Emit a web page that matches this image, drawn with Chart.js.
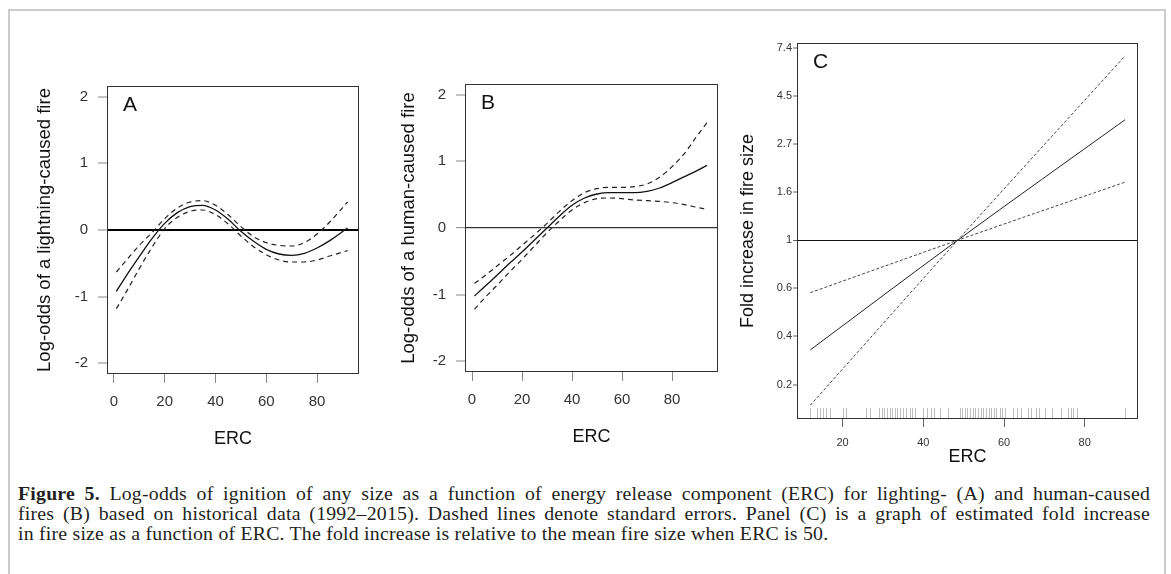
<!DOCTYPE html>
<html>
<head>
<meta charset="utf-8">
<script src="https://cdn.jsdelivr.net/npm/chart.js@4.4.0/dist/chart.umd.min.js"></script>
<style>
  html, body { margin: 0; padding: 0; background: #fff; }
  body { width: 1171px; height: 574px; position: relative; overflow: hidden; }
  .frame { position: absolute; left: 8px; top: 9px; width: 1158px; height: 620px; border: 2px solid #cbcbcb; box-sizing: border-box; }
  .panel { position: absolute; }
  .panel canvas { display: block; }
  #wrapA { left: 20px; top: 78px; width: 345px; height: 385px; }
  #wrapB { left: 380px; top: 76px; width: 345px; height: 385px; }
  #wrapC { left: 720px; top: 35px; width: 425px; height: 440px; }
  .caption { position: absolute; left: 18px; top: 483px; width: 1132px; font-family: 'Liberation Serif', 'Times New Roman', serif; font-size: 19.8px; letter-spacing: 0.22px; line-height: 20px; color: #231f20; }
  .caption .j { text-align: justify; text-align-last: justify; white-space: nowrap; }
  .caption .l { white-space: nowrap; }
</style>
</head>
<body>
<div class="frame"></div>
<div class="panel" id="wrapA"><canvas id="chartA"></canvas></div>
<div class="panel" id="wrapB"><canvas id="chartB"></canvas></div>
<div class="panel" id="wrapC"><canvas id="chartC"></canvas></div>
<div class="caption">
  <div class="j"><b>Figure 5.</b> Log-odds of ignition of any size as a function of energy release component (ERC) for lighting- (A) and human-caused</div>
  <div class="j">fires (B) based on historical data (1992–2015). Dashed lines denote standard errors. Panel (C) is a graph of estimated fold increase</div>
  <div class="l">in fire size as a function of ERC. The fold increase is relative to the mean fire size when ERC is 50.</div>
</div>
<script>
// Panel A — lightning-caused fires (log-odds, fit and standard errors)
const ercA   = [1, 5, 10, 15, 20, 25, 30, 35, 40, 45, 50, 55, 60, 65, 70, 75, 80, 85, 92];
const fitA   = [-0.92, -0.68, -0.40, -0.13, 0.10, 0.26, 0.35, 0.37, 0.30, 0.16, -0.02, -0.17, -0.29, -0.36, -0.38, -0.35, -0.27, -0.16, 0.03];
const upperA = [-0.63, -0.45, -0.23, -0.04, 0.17, 0.33, 0.42, 0.44, 0.37, 0.23, 0.05, -0.10, -0.19, -0.23, -0.24, -0.19, -0.06, 0.12, 0.42];
const lowerA = [-1.18, -0.92, -0.58, -0.26, 0.02, 0.19, 0.28, 0.30, 0.23, 0.09, -0.09, -0.25, -0.37, -0.45, -0.48, -0.48, -0.45, -0.39, -0.31];

// Panel B — human-caused fires
const ercB   = [1, 5, 10, 15, 20, 25, 30, 35, 40, 45, 50, 55, 60, 65, 70, 75, 80, 85, 90, 94];
const fitB   = [-1.02, -0.88, -0.71, -0.53, -0.36, -0.18, 0.00, 0.18, 0.34, 0.45, 0.51, 0.53, 0.53, 0.53, 0.55, 0.60, 0.68, 0.77, 0.86, 0.94];
const upperB = [-0.83, -0.72, -0.57, -0.42, -0.26, -0.10, 0.07, 0.25, 0.41, 0.53, 0.59, 0.61, 0.61, 0.62, 0.66, 0.76, 0.92, 1.12, 1.38, 1.58];
const lowerB = [-1.22, -1.05, -0.86, -0.66, -0.47, -0.27, -0.07, 0.11, 0.27, 0.38, 0.44, 0.45, 0.44, 0.42, 0.41, 0.40, 0.38, 0.35, 0.31, 0.28];

// Panel C — fold increase in fire size (log axis)
const ercC      = [12, 48.5, 90];
const foldC     = [0.32, 1, 3.5];
const foldHighC = [0.18, 1, 6.8];
const foldLowC  = [0.58, 1, 1.83];
const rugC = [11.8, 13.7, 14.5, 15.1, 15.8, 16.9, 20.1, 20.9, 25.9, 26.7, 29.0, 29.7, 30.3, 31.0, 31.7, 32.3,
  33.0, 33.6, 34.3, 35.0, 35.6, 36.6, 37.3, 37.9, 39.9, 40.8, 42.0, 42.7, 44.1, 46.1, 49.0, 49.7, 50.3, 50.9,
  51.5, 52.2, 52.8, 53.5, 54.2, 54.8, 55.5, 56.2, 56.8, 57.5, 58.1, 59.0, 59.6, 60.3, 62.3, 63.1, 64.1, 65.9,
  66.6, 67.9, 68.7, 70.1, 72.0, 74.0, 75.8, 76.5, 77.1, 78.0, 90.1];

// axis ticks
const logOddsTicks  = [-2, -1, 0, 1, 2];
const ercTicksAB    = [0, 20, 40, 60, 80];
const ercTicksC     = [20, 40, 60, 80];
const foldTickVals  = [0.223, 0.368, 0.607, 1, 1.649, 2.718, 4.482, 7.389];
const foldTickLabels = ['0.2', '0.4', '0.6', '1', '1.6', '2.7', '4.5', '7.4'];

const SANS = "'Liberation Sans', Arial, sans-serif";
const pts = (xs, ys) => xs.map((x, i) => ({ x, y: ys[i] }));

// box around the plot region + panel letter
const plotBox = {
  id: 'plotBox',
  afterDraw(chart, args, opts) {
    const { ctx, chartArea: a } = chart;
    ctx.save();
    ctx.strokeStyle = '#333';
    ctx.lineWidth = 1;
    ctx.strokeRect(Math.round(a.left) + 0.5, Math.round(a.top) + 0.5, Math.round(a.width) - 1, Math.round(a.height) - 1);
    ctx.fillStyle = '#111';
    ctx.font = '21px ' + SANS;
    ctx.textBaseline = 'alphabetic';
    ctx.fillText(opts.label, a.left + 16, a.top + 25);
    ctx.restore();
  }
};

// rug of observed ERC values along the bottom of panel C
const rug = {
  id: 'rug',
  afterDatasetsDraw(chart, args, opts) {
    if (!opts.values) return;
    const { ctx, chartArea: a, scales } = chart;
    ctx.save();
    ctx.strokeStyle = '#bdbdbd';
    ctx.lineWidth = 1;
    ctx.beginPath();
    opts.values.forEach(v => {
      const px = Math.round(scales.x.getPixelForValue(v)) + 0.5;
      ctx.moveTo(px, a.bottom - 11);
      ctx.lineTo(px, a.bottom);
    });
    ctx.stroke();
    ctx.restore();
  }
};

function solid(data, w, color) {
  return { data, borderColor: color, borderWidth: w, pointRadius: 0, cubicInterpolationMode: 'monotone', fill: false };
}
function dashed(data, w, color, dash) {
  return { data, borderColor: color, borderWidth: w, borderDash: dash, pointRadius: 0, cubicInterpolationMode: 'monotone', fill: false };
}

function logOddsPanel(id, label, yTitle, xs, fit, up, lo, o) {
  return new Chart(document.getElementById(id), {
    type: 'line',
    data: { datasets: [
      solid(pts(xs, fit), 1.3, '#111'),
      dashed(pts(xs, up), 1.2, '#222', [5, 4]),
      dashed(pts(xs, lo), 1.2, '#222', [5, 4]),
    ] },
    plugins: [plotBox],
    options: {
      responsive: true, maintainAspectRatio: false, animation: false, events: [],
      layout: { padding: { top: 8, right: o.padRight, left: 0, bottom: 0 } },
      plugins: { legend: { display: false }, tooltip: { enabled: false }, plotBox: { label } },
      scales: {
        x: {
          type: 'linear', min: o.xMin, max: o.xMax,
          afterBuildTicks: s => { s.ticks = ercTicksAB.map(v => ({ value: v })); },
          afterFit: s => { s.height = 89; s.paddingLeft = 0; s.paddingRight = 0; },
          grid: { drawOnChartArea: false, tickLength: 9, tickColor: '#888', tickWidth: 1 },
          border: { display: false },
          ticks: { autoSkip: false, maxRotation: 0, padding: 10, color: '#333', font: { family: SANS, size: 15 } },
          title: { display: true, text: 'ERC', color: '#111', font: { family: SANS, size: 18 }, padding: { top: 0, bottom: 13 } },
        },
        y: {
          min: -2.16, max: 2.16,
          afterBuildTicks: s => { s.ticks = logOddsTicks.map(v => ({ value: v })); },
          afterFit: s => { s.width = o.yWidth; s.paddingTop = 0; s.paddingBottom = 0; },
          grid: {
            color: c => c.tick && c.tick.value === 0 ? o.zeroColor : 'rgba(0,0,0,0)',
            lineWidth: c => c.tick && c.tick.value === 0 ? o.zeroWidth : 0,
            tickLength: 9, tickColor: '#888', tickWidth: 1,
          },
          border: { display: false },
          ticks: { autoSkip: false, padding: 10, color: '#333', font: { family: SANS, size: 15 } },
          title: { display: true, text: yTitle, color: '#111', font: { family: SANS, size: 18.5 }, padding: { top: o.titlePad, bottom: 0 } },
        },
      },
    },
  });
}

logOddsPanel('chartA', 'A', 'Log-odds of a lightning-caused fire', ercA, fitA, upperA, lowerA,
  { xMin: -2.7, xMax: 96.5, padRight: 6, yWidth: 87, titlePad: 14, zeroColor: '#000', zeroWidth: 2 });
logOddsPanel('chartB', 'B', 'Log-odds of a human-caused fire', ercB, fitB, upperB, lowerB,
  { xMin: -2.8, xMax: 98.4, padRight: 7, yWidth: 85, titlePad: 18, zeroColor: '#333', zeroWidth: 1.2 });

new Chart(document.getElementById('chartC'), {
  type: 'line',
  data: { datasets: [
    solid(pts(ercC, foldC), 1, '#222'),
    dashed(pts(ercC, foldHighC), 1, '#444', [3, 2]),
    dashed(pts(ercC, foldLowC), 1, '#444', [3, 2]),
  ] },
  plugins: [plotBox, rug],
  options: {
    responsive: true, maintainAspectRatio: false, animation: false, events: [],
    layout: { padding: { top: 8, right: 7, left: 0, bottom: 0 } },
    plugins: { legend: { display: false }, tooltip: { enabled: false }, plotBox: { label: 'C' }, rug: { values: rugC } },
    scales: {
      x: {
        type: 'linear', min: 8.7, max: 93.2,
        afterBuildTicks: s => { s.ticks = ercTicksC.map(v => ({ value: v })); },
        afterFit: s => { s.height = 56; s.paddingLeft = 0; s.paddingRight = 0; },
        grid: { drawOnChartArea: false, tickLength: 8, tickColor: '#666', tickWidth: 1 },
        border: { display: false },
        ticks: { autoSkip: false, maxRotation: 0, padding: 9, color: '#333', font: { family: SANS, size: 11 } },
        title: { display: true, text: 'ERC', color: '#111', font: { family: SANS, size: 18 }, padding: { top: 0, bottom: 7 } },
      },
      y: {
        type: 'logarithmic', min: 0.156, max: 7.77,
        afterBuildTicks: s => { s.ticks = foldTickVals.map(v => ({ value: v })); },
        afterFit: s => { s.width = 77; s.paddingTop = 0; s.paddingBottom = 0; },
        grid: {
          color: c => c.tick && c.tick.value === 1 ? '#111' : 'rgba(0,0,0,0)',
          lineWidth: c => c.tick && c.tick.value === 1 ? 1 : 0,
          tickLength: 4, tickColor: '#666', tickWidth: 1,
        },
        border: { display: false },
        ticks: { autoSkip: false, padding: 1, color: '#333', font: { family: SANS, size: 11 }, callback: (v, i) => foldTickLabels[i] },
        title: { display: true, text: 'Fold increase in fire size', color: '#111', font: { family: SANS, size: 18 }, padding: { top: 17, bottom: 0 } },
      },
    },
  },
});
</script>
</body>
</html>
